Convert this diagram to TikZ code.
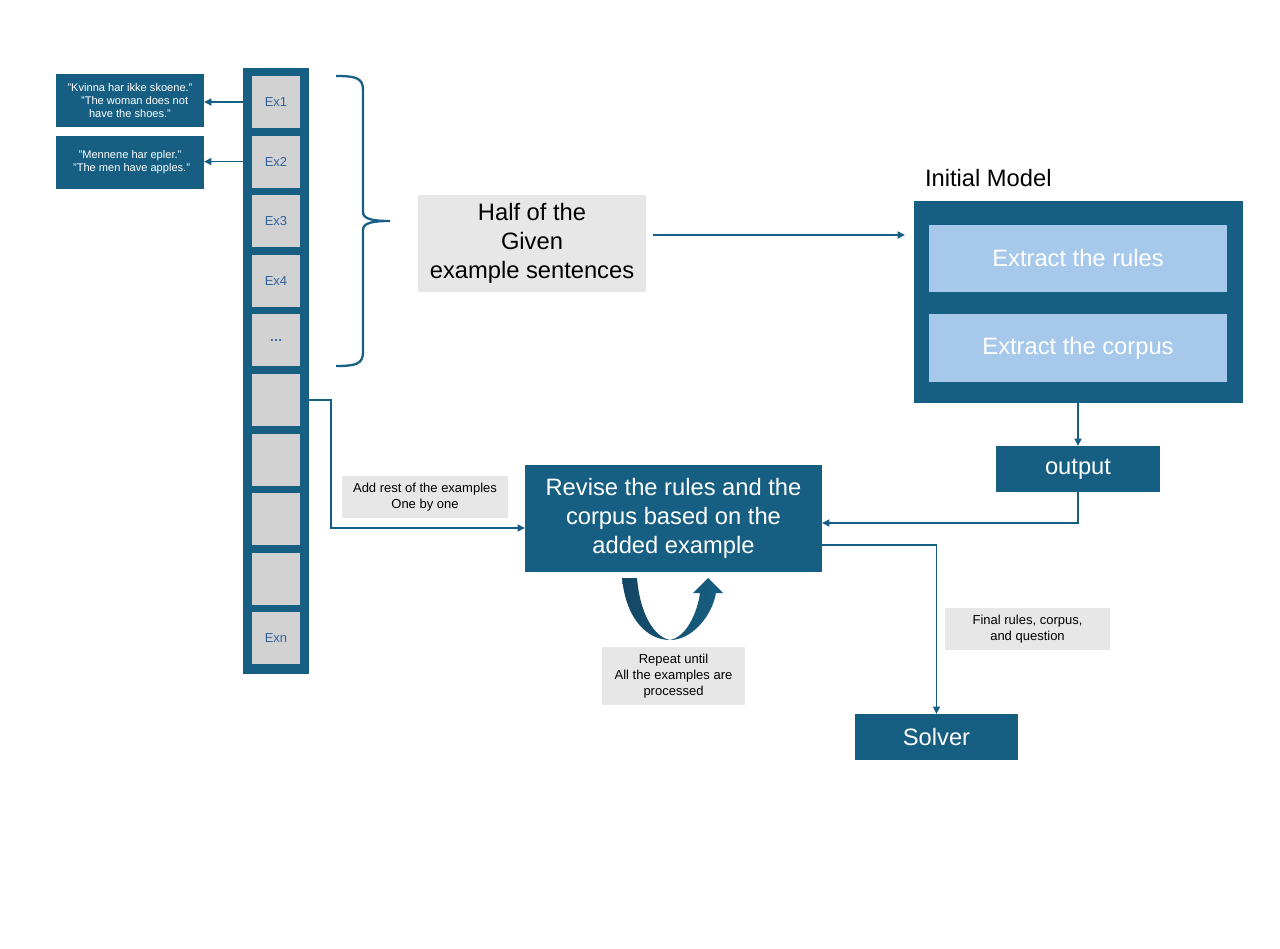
\documentclass[tikz,border=0pt]{standalone}
\usepackage{fontspec}
\setmainfont{Liberation Sans}
\usepackage{xcolor}
\usetikzlibrary{arrows.meta}
\definecolor{deepblue}{RGB}{22,95,130}
\definecolor{darkshade}{RGB}{20,70,100}
\definecolor{cellgrey}{RGB}{210,210,210}
\definecolor{paleblue}{RGB}{166,201,235}
\definecolor{labelgrey}{RGB}{231,231,231}
\definecolor{exblue}{RGB}{47,98,160}
\newcommand{\bigtxt}{\fontsize{13.5pt}{16.4pt}\selectfont}
\newcommand{\smalltxt}{\fontsize{7.4pt}{9pt}\selectfont}
\newcommand{\tinytxt}{\fontsize{6.3pt}{7.4pt}\selectfont}
\begin{document}
\begin{tikzpicture}[x=0.02cm, y=-0.02cm, inner sep=0pt, outer sep=0pt,
    darkbox/.style={rectangle, fill=deepblue, text=white, align=center},
    cellbox/.style={rectangle, fill=cellgrey, text=exblue, minimum width=0.96cm, minimum height=1.04cm, font=\smalltxt},
    notebox/.style={rectangle, fill=labelgrey, text=black, align=center, font=\smalltxt},
    sentbox/.style={darkbox, minimum width=2.96cm, minimum height=1.06cm, font=\tinytxt},
    stepin/.style={rectangle, fill=paleblue, text=white, minimum width=5.96cm, font=\bigtxt},
    arr/.style={draw=deepblue, line width=1pt, -{Triangle[length=0.15cm, width=0.14cm]}}]
    \useasboundingbox (0,0) rectangle (1280,949);

    \node[darkbox, minimum width=1.32cm, minimum height=12.12cm] (col) at (276,371) {};
    \foreach \lab [count=\i] in {Ex1,Ex2,Ex3,Ex4,{\bfseries\dots},{},{},{},{},Exn}
        \node[cellbox] (c\i) at (276,{102+59.6*(\i-1)}) {\lab};

    \node[sentbox] (s1) at (130,100.5) {"Kvinna har ikke skoene."\\ \ \ \ "The woman does not\\have the shoes."};
    \node[sentbox] (s2) at (130,162.5) {"Mennene har epler."\\ \ "The men have apples."};
    \draw[arr] (col.west |- c1) -- (s1.east |- c1);
    \draw[arr] (col.west |- c2) -- (s2.east |- c2);

    \draw[deepblue, line width=1.3pt] (336,76) .. controls (356,76) and (363,78) .. (363,90) -- (363,212)
        .. controls (363,219) and (372,221) .. (390,221) .. controls (372,221) and (363,223) .. (363,230)
        -- (363,352) .. controls (363,364) and (356,366) .. (336,366);

    \node[notebox, minimum width=4.56cm, minimum height=1.94cm, font=\bigtxt] (half) at (532,243.5) {Half of the\\Given\\example sentences};

    \node[darkbox, minimum width=6.58cm, minimum height=4.04cm] (model) at (1078.5,302) {};
    \node[anchor=west, font=\bigtxt] (title) at (925,178) {Initial Model};
    \node[stepin, minimum height=1.34cm] (rules) at (1078,258.5) {Extract the rules};
    \node[stepin, minimum height=1.36cm] (corpus) at (1078,348) {Extract the corpus};
    \draw[arr, shorten <=0.14cm, shorten >=0.18cm] ([yshift=0.17cm]half.east) -- ([yshift=0.17cm]half.east -| model.west);

    \node[darkbox, minimum width=3.28cm, minimum height=0.92cm, font=\bigtxt] (out) at (1078,469) {output};
    \draw[arr] (model.south -| out) -- (out.north);

    \node[darkbox, minimum width=5.94cm, minimum height=2.14cm, font=\bigtxt] (rev) at (673.5,518.5) {Revise the rules and the\\corpus based on the\\added example};
    \draw[arr] (out.south) |- ([yshift=-0.09cm]rev.east);

    \node[notebox, minimum width=3.32cm, minimum height=0.84cm] (add) at (425,497) {Add rest of the examples\\One by one};
    \draw[arr] (col.east |- c6) -- (331,400) |- ([yshift=-0.19cm]rev.west);

    \node[darkbox, minimum width=3.26cm, minimum height=0.92cm, font=\bigtxt] (solver) at (936.5,737) {Solver};
    \node[notebox, minimum width=3.3cm, minimum height=0.84cm] (final) at (1027.5,629) {Final rules, corpus,\\and question};
    \draw[arr] ([yshift=-0.53cm]rev.east) -| (solver.north);

    \shade[left color=darkshade, right color=deepblue] (622,578) .. controls (626,620) and (648,640) .. (670,640)
        .. controls (692,640) and (712,616) .. (716,593) -- (723,593) -- (708,578) -- (693,593) -- (700,593)
        .. controls (697,614) and (686,637) .. (670,640) .. controls (654,637) and (640,614) .. (637,578) -- cycle;
    \node[notebox, minimum width=2.86cm, minimum height=1.16cm] (repeat) at (673.5,676) {Repeat until\\All the examples are\\processed};
\end{tikzpicture}
\end{document}
